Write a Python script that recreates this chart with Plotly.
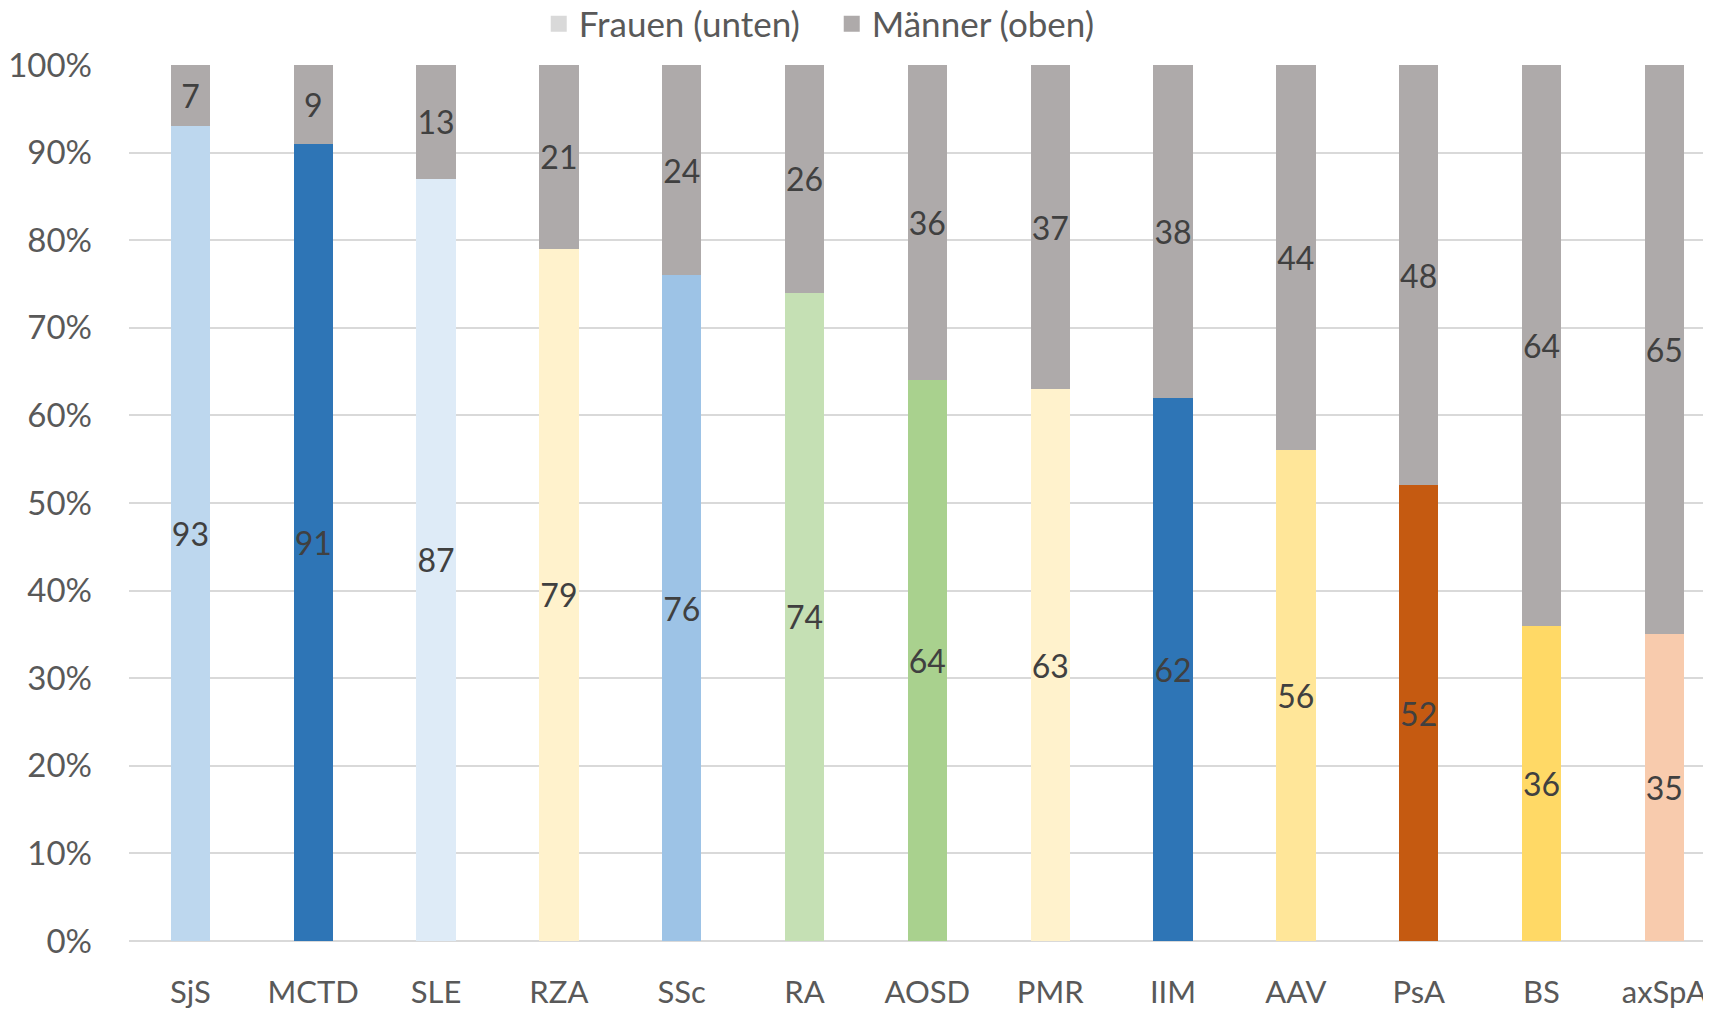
import plotly.graph_objects as go

categories = ["SjS", "MCTD", "SLE", "RZA", "SSc", "RA", "AOSD", "PMR", "IIM", "AAV", "PsA", "BS", "axSpA"]
frauen = [93, 91, 87, 79, 76, 74, 64, 63, 62, 56, 52, 36, 35]
maenner = [7, 9, 13, 21, 24, 26, 36, 37, 38, 44, 48, 64, 65]
frauen_colors = ["#BDD7EE", "#2E75B6", "#DEEBF7", "#FFF2CC", "#9DC3E6", "#C5E0B4", "#A9D18E",
                 "#FFF2CC", "#2E75B6", "#FFE699", "#C55A11", "#FFD966", "#F8CBAD"]
maenner_color = "#AEAAAA"
legend_frauen_color = "#D9D9D9"
y_ticks = [0, 10, 20, 30, 40, 50, 60, 70, 80, 90, 100]

FONT = "Lato"
label_font = dict(family=FONT, size=32, color="#404040")
xtick_font = dict(family=FONT, size=31, color="#595959")
ytick_font = dict(family=FONT, size=33, color="#595959")

fig = go.Figure()
fig.add_trace(go.Bar(
    x=categories, y=frauen, name="Frauen (unten)", showlegend=False,
    marker=dict(color=frauen_colors, line=dict(width=0)),
    text=[str(v) for v in frauen], textposition="inside", insidetextanchor="middle",
    constraintext="none", textangle=0, textfont=label_font, width=0.32,
))
fig.add_trace(go.Bar(
    x=categories, y=maenner, name="Männer (oben)", showlegend=False,
    marker=dict(color=maenner_color, line=dict(width=0)),
    text=[str(v) for v in maenner], textposition="inside", insidetextanchor="middle",
    constraintext="none", textangle=0, textfont=label_font, width=0.32,
))
# legend entries
fig.add_trace(go.Scatter(x=[categories[0]], y=[None], name="Frauen (unten)", mode="markers",
                         marker=dict(color=legend_frauen_color, symbol="square", size=17),
                         showlegend=True))
fig.add_trace(go.Scatter(x=[categories[0]], y=[None], name="Männer (oben)", mode="markers",
                         marker=dict(color=maenner_color, symbol="square", size=17),
                         showlegend=True))

fig.update_layout(
    barmode="stack",
    width=1711, height=1009,
    margin=dict(l=121, r=8, t=57, b=76, autoexpand=False),
    plot_bgcolor="white", paper_bgcolor="white",
    font=dict(family=FONT, size=31, color="#595959"),
    showlegend=True,
    legend=dict(orientation="h", x=0.259, xanchor="left", xref="paper",
                y=1 - 16 / 1009, yref="container", yanchor="middle",
                traceorder="normal", font=dict(family=FONT, size=35, color="#595959"),
                itemwidth=30, entrywidth=248, entrywidthmode="pixels",
                bgcolor="rgba(0,0,0,0)"),
)
fig.update_xaxes(
    range=[-0.5, 12.38], showgrid=False, showline=False, ticks="", automargin=False,
    ticklabelstandoff=30, tickfont=xtick_font,
)
fig.update_yaxes(
    range=[0, 100], tickvals=y_ticks, ticktext=[f"{v}%" for v in y_ticks], automargin=False,
    showgrid=True, gridcolor="#D9D9D9", gridwidth=1.5, zeroline=True,
    zerolinecolor="#D9D9D9", zerolinewidth=1.5, showline=False, ticks="",
    ticklabelstandoff=36, tickfont=ytick_font,
)

fig.write_html("out.html")
